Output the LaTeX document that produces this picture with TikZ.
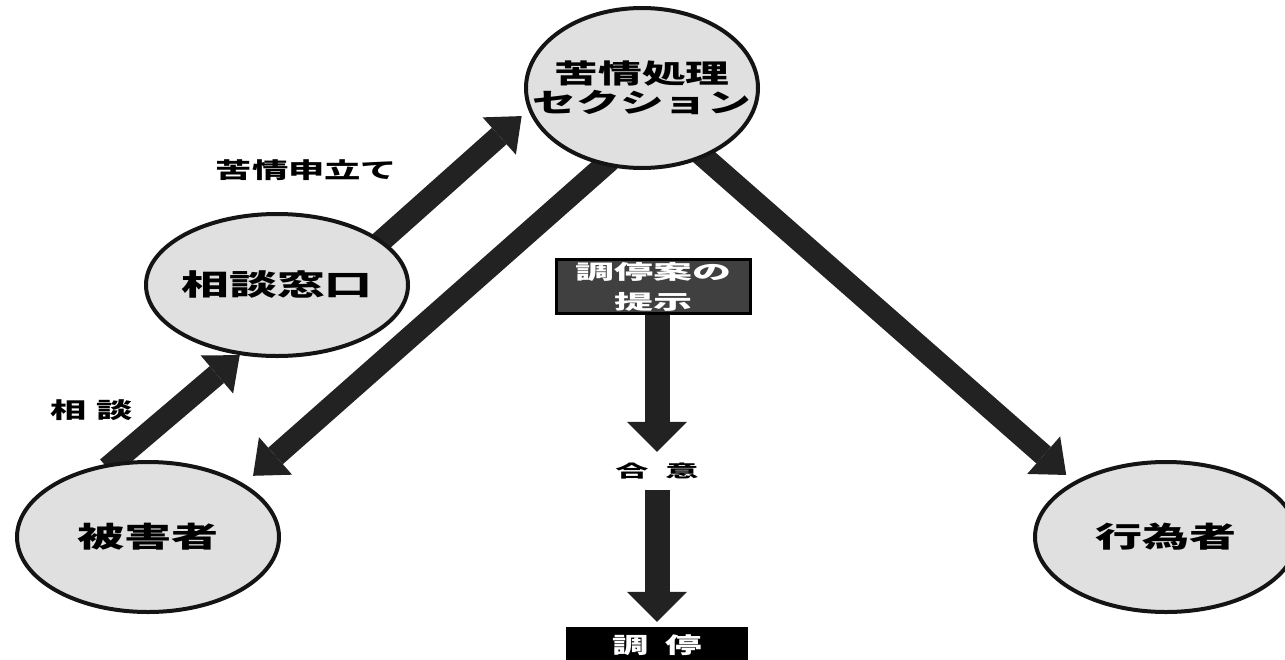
\documentclass[tikz,border=0pt]{standalone}
\usepackage{fontspec}
\newfontfamily\jpw{Noto Sans CJK JP}[FakeStretch=1.65]
\newfontfamily\jpx{Noto Sans CJK JP}[FakeStretch=1.95]
\usetikzlibrary{shapes.geometric,arrows.meta,backgrounds}
\definecolor{ellfill}{HTML}{E0E0E0}
\definecolor{ink}{HTML}{222222}
\definecolor{boxgray}{HTML}{404040}
\begin{document}
\begin{tikzpicture}[x=1pt,y=-1pt,
  ell/.style={ellipse,draw=black!92,line width=4pt,fill=ellfill,inner sep=0pt},
  lab/.style={align=center,text=black,inner sep=0pt},
  bigarrow/.style={draw=ink,line width=22pt,-{Triangle[width=50pt,length=30pt,line width=0pt]}},
  vertarrow/.style={draw=ink,line width=25pt,-{Triangle[width=60pt,length=30pt,line width=0pt]}},
  tag/.style={inner sep=0pt,text=black,font=\jpw\bfseries\fontsize{22}{26}\selectfont}
]
\useasboundingbox (0,0) rectangle (1285,659);

% ellipses
\node[ell,minimum width=232pt,minimum height=160pt,
  label={[lab,font=\jpw\bfseries\fontsize{26.5}{29}\selectfont]center:苦情処理\\セクション}] (kujo) at (642,88) {};
\node[ell,minimum width=262pt,minimum height=142pt,
  label={[lab,font=\jpw\bfseries\fontsize{29}{32}\selectfont]center:相談窓口}] (soudan) at (277,285) {};
\node[ell,minimum width=262pt,minimum height=150pt,
  label={[lab,font=\jpw\bfseries\fontsize{28.5}{32}\selectfont]center:被害者}] (higai) at (148,537) {};
\node[ell,minimum width=262pt,minimum height=150pt,
  label={[lab,font=\jpw\bfseries\fontsize{28.5}{32}\selectfont]center:行為者}] (koui) at (1166,537) {};

% center column
\node[draw=black,line width=3pt,fill=boxgray,minimum width=194pt,minimum height=54pt,inner sep=0pt,
  text=white,align=center,font=\jpx\bfseries\fontsize{20}{30}\selectfont] (teian) at (653.5,286.5) {調停案の\\提示};
\node[inner sep=0pt,minimum height=38pt,text=black,font=\jpx\bfseries\fontsize{17}{20}\selectfont] (goi) at (657,471) {合\hspace{17pt}意};
\node[fill=black,minimum width=182pt,minimum height=36pt,inner sep=0pt,text=white,
  font=\jpw\bfseries\fontsize{22}{26}\selectfont] (chotei) at (657,645) {調\hspace{17pt}停};

% labels
\node[tag] (moushitate) at (306.5,170) {苦情申立て};
\node[tag] (soudanlab) at (92,410) {相\hspace{10pt}談};

% connectors
\begin{pgfonlayer}{background}
\fill[white] (0,0) rectangle (1285,659);
\draw[bigarrow,shorten <=-8pt] (higai.115) -- (soudan.242);
\draw[bigarrow,shorten <=-8pt,shorten >=9pt] (soudan.23.5) -- (kujo.191);
\draw[bigarrow,shorten <=-8pt,shorten >=12pt] (kujo.244) -- (higai.29.7);
\draw[bigarrow,shorten <=-8pt,shorten >=10pt] (kujo.312) -- (koui.149.8);
\draw[vertarrow] (teian.south -| goi.north) -- (goi.north);
\draw[vertarrow,shorten >=5pt] (goi.south) -- (chotei.north);
\end{pgfonlayer}
\end{tikzpicture}
\end{document}
